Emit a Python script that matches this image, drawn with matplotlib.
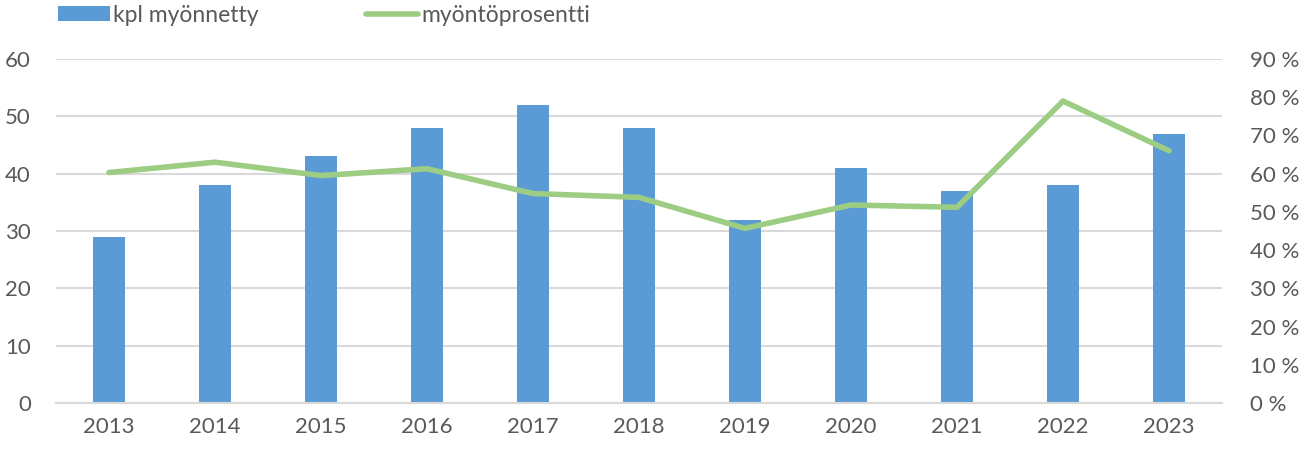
import matplotlib
matplotlib.use("Agg")
import matplotlib.pyplot as plt
from matplotlib.ticker import FuncFormatter, MultipleLocator

years = ["2013", "2014", "2015", "2016", "2017", "2018", "2019", "2020", "2021", "2022", "2023"]
granted = [29, 38, 43, 48, 52, 48, 32, 41, 37, 38, 47]
rate_pct = [60.3, 63.0, 59.5, 61.3, 54.8, 53.8, 45.7, 51.8, 51.2, 79.0, 66.0]

plt.rcParams['font.family'] = ['Lato', 'DejaVu Sans']
txt = '#595959'
bar_c = '#5b9bd5'
line_c = '#9dcd83'
grid_c = '#d9d9d9'

fig = plt.figure(figsize=(13.12, 4.49), dpi=100)
ax = fig.add_axes([56/1312, 1 - 403/449, (1222-56)/1312, (403-59)/449])
x = list(range(len(years)))
ax.bar(x, granted, width=0.31, color=bar_c, zorder=2, label='kpl myönnetty')
ax.set_xlim(-0.5, len(years) - 0.5)
ax.set_ylim(0, 60)
ax.yaxis.set_major_locator(MultipleLocator(10))
ax.grid(axis='y', color=grid_c, linewidth=1.5, zorder=0)
ax.set_axisbelow(True)
for s in ['top', 'right', 'left']:
    ax.spines[s].set_visible(False)
ax.spines['bottom'].set_color(grid_c)
ax.spines['bottom'].set_linewidth(1.5)
ax.set_xticks(x)
ax.set_xticklabels(years)
ax.tick_params(axis='both', length=0, labelsize=16, colors=txt, pad=10)
ax.tick_params(axis='y', pad=18)

ax2 = ax.twinx()
ax2.plot(x, rate_pct, color=line_c, linewidth=4, solid_capstyle='round', zorder=3, label='myöntöprosentti')
ax2.set_ylim(0, 90)
ax2.yaxis.set_major_locator(MultipleLocator(10))
ax2.yaxis.set_major_formatter(FuncFormatter(lambda v, p: f"{int(v)} %"))
for s in ['top', 'right', 'left', 'bottom']:
    ax2.spines[s].set_visible(False)
ax2.tick_params(axis='y', length=0, labelsize=16, colors=txt, pad=20)

h1, l1 = ax.get_legend_handles_labels()
h2, l2 = ax2.get_legend_handles_labels()
fig.legend(h1 + h2, l1 + l2, loc='upper left', bbox_to_anchor=(37/1312, 1.035), ncol=2,
           frameon=False, fontsize=16.5, labelcolor=txt, handlelength=2.27, handletextpad=0.15,
           columnspacing=4.7, handleheight=0.61)

fig.savefig('out.png', dpi=100)
